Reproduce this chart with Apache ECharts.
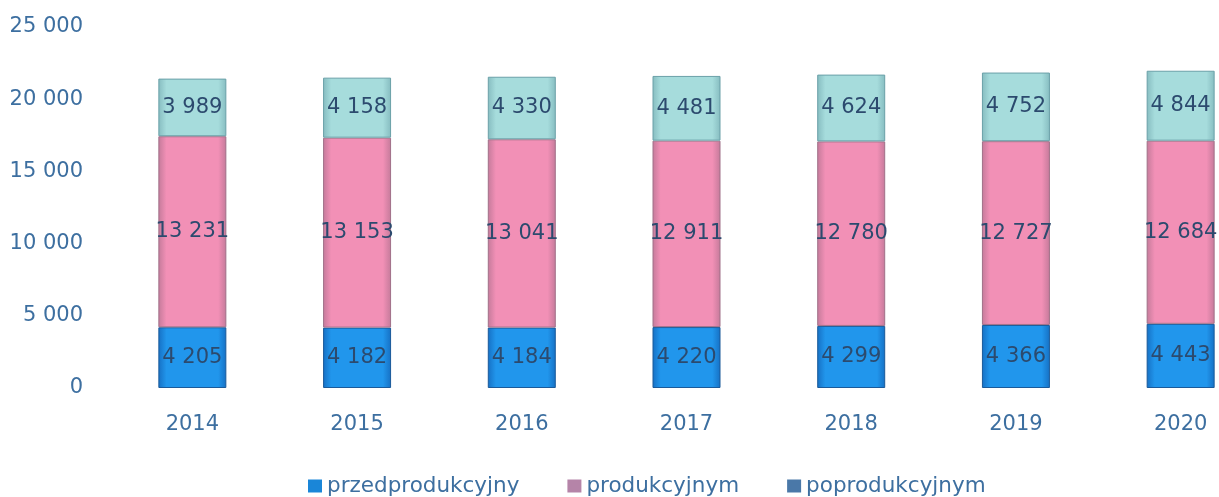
<!DOCTYPE html>
<html>
<head>
<meta charset="utf-8">
<script src="https://cdn.jsdelivr.net/npm/echarts@6/dist/echarts.min.js"></script>
<style>
  html, body { margin: 0; padding: 0; background: #fff; overflow: hidden; }
  /* oryginał jest ucięty z prawej - kontener szerszy niż okno */
  #chart { width: 1263px; height: 497px; }
</style>
</head>
<body>
<div id="chart"></div>
<script>
const years = ["2014", "2015", "2016", "2017", "2018", "2019", "2020"];
const przedprodukcyjny = [4205, 4182, 4184, 4220, 4299, 4366, 4443];
const produkcyjnym = [13231, 13153, 13041, 12911, 12780, 12727, 12684];
const poprodukcyjnym = [3989, 4158, 4330, 4481, 4624, 4752, 4844];
const seriesNames = ["przedprodukcyjny", "produkcyjnym", "poprodukcyjnym"];

const axisColor = "#3d6fa0";
const font = "DejaVu Sans";
const fmt = (v) => String(v).replace(/\B(?=(\d{3})+(?!\d))/g, " ");

// poziomy gradient - ciemniejsze brzegi, jasny środek (efekt "bevel")
const bevel = (edge, mid) => ({
  type: "linear", x: 0, y: 0, x2: 1, y2: 0,
  colorStops: [
    { offset: 0, color: edge },
    { offset: 0.12, color: mid },
    { offset: 0.88, color: mid },
    { offset: 1, color: edge },
  ],
});

const makeSeries = (name, data, fill, border) => ({
  name: name,
  type: "bar",
  stack: "total",
  barWidth: 68,
  data: data,
  itemStyle: { color: fill, borderColor: border, borderWidth: 1 },
  label: {
    show: true,
    position: "inside",
    color: "#2c4a6e",
    fontSize: 21,
    fontFamily: font,
    formatter: (p) => fmt(p.value),
  },
});

const chart = echarts.init(document.getElementById("chart"));
chart.setOption({
  animation: false,
  backgroundColor: "#fff",
  grid: { left: 110, top: 27, right: 0, bottom: 109 },
  xAxis: {
    type: "category",
    data: years,
    axisLine: { show: false },
    axisTick: { show: false },
    axisLabel: { color: axisColor, fontSize: 21, fontFamily: font, margin: 26 },
  },
  yAxis: {
    type: "value",
    min: 0,
    max: 25000,
    interval: 5000,
    splitLine: { show: false },
    axisLine: { show: false },
    axisTick: { show: false },
    axisLabel: {
      color: axisColor, fontSize: 21, fontFamily: font, margin: 27,
      formatter: (v) => fmt(v),
    },
  },
  legend: {
    top: 470,
    left: 303,
    itemGap: 48,
    itemWidth: 14,
    itemHeight: 13,
    icon: "rect",
    textStyle: { color: axisColor, fontSize: 21.5, fontFamily: font },
    data: [
      { name: seriesNames[0], itemStyle: { color: "#1a86d8", borderWidth: 0 } },
      { name: seriesNames[1], itemStyle: { color: "#b584a8", borderWidth: 0 } },
      { name: seriesNames[2], itemStyle: { color: "#4a78a8", borderWidth: 0 } },
    ],
  },
  series: [
    makeSeries(seriesNames[0], przedprodukcyjny, bevel("#1670c4", "#2196ec"), "#1a5a9a"),
    makeSeries(seriesNames[1], produkcyjnym, bevel("#c47a9a", "#f290b6"), "#a07088"),
    makeSeries(seriesNames[2], poprodukcyjnym, bevel("#86bcc0", "#a6dcdc"), "#6aa0a8"),
  ],
});
</script>
</body>
</html>
